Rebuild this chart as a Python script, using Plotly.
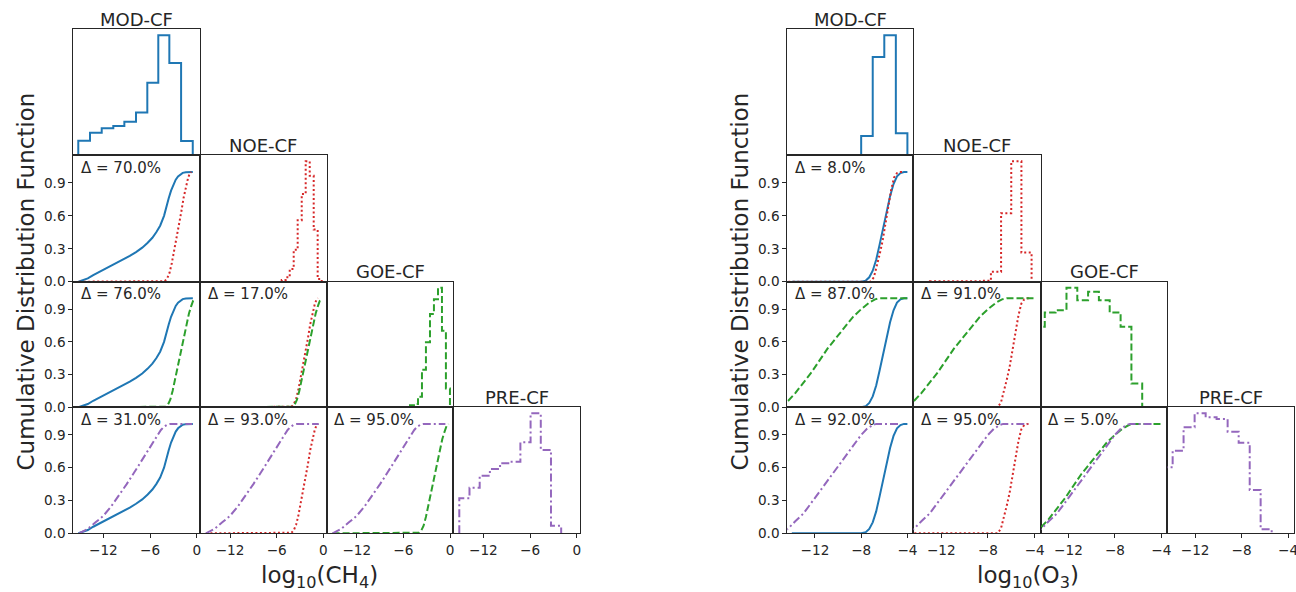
import plotly.graph_objects as go

W, H = 1296, 592

MODELS = ["MOD-CF", "NOE-CF", "GOE-CF", "PRE-CF"]
COLORS = ["#1f77b4", "#d62728", "#2ca02c", "#9467bd"]
DASHES = ["solid", "2px,2.5px", "7px,3px", "8px,3px,2px,3px"]
TXT = "#262626"
FONT = "DejaVu Sans"

# ---------------- CH4 data ----------------
ch4_mod_edges = [-15.22, -13.71, -12.21, -10.72, -9.30, -7.80, -6.35, -4.94, -3.52, -2.01, -0.51]
ch4_mod_counts = [44, 68, 81, 88, 101, 129, 218, 361, 278, 43]
ch4_noe_edges = [-5.36, -4.85, -4.33, -3.82, -3.31, -2.79, -2.28, -1.76, -1.25, -0.74, -0.22]
ch4_noe_counts = [5, 13, 38, 95, 183, 261, 358, 315, 155, 8]
ch4_goe_edges = [-5.15, -4.64, -4.12, -3.61, -3.10, -2.58, -2.07, -1.55, -1.04, -0.53, -0.01]
ch4_goe_counts = [6, 10, 32, 114, 197, 282, 327, 362, 232, 57]
ch4_pre_edges = [-15.09, -13.78, -12.47, -11.16, -9.85, -8.55, -7.24, -5.93, -4.62, -3.31, -2.00]
ch4_pre_counts = [105, 137, 173, 193, 210, 215, 273, 360, 250, 23]

ch4_mod_cdf_x = [-15.2, -14.5, -14.0, -13.3, -12.6, -12.0, -11.1, -10.3, -9.5, -8.6, -7.8, -7.0,
                 -6.3, -5.7, -5.2, -4.7, -4.2, -3.9, -3.6, -3.3, -3.0, -2.7, -2.4, -2.1, -1.8,
                 -1.4, -1.0, -0.5]
ch4_mod_cdf_y = [0.0, 0.015, 0.03, 0.06, 0.085, 0.11, 0.14, 0.17, 0.20, 0.235, 0.27, 0.31,
                 0.355, 0.40, 0.45, 0.51, 0.60, 0.69, 0.76, 0.83, 0.885, 0.93, 0.96, 0.98, 0.992,
                 0.998, 1.0, 1.0]
ch4_noe_cdf_x = [-15.1, -4.5, -4.1, -3.8, -3.5, -3.2, -2.9, -2.6, -2.3, -2.0, -1.7, -1.4, -1.1, -0.9, -0.7]
ch4_noe_cdf_y = [0.0, 0.0, 0.005, 0.03, 0.08, 0.17, 0.28, 0.40, 0.51, 0.63, 0.76, 0.87, 0.95, 0.985, 1.0]
ch4_goe_cdf_x = [-15.1, -4.3, -4.0, -3.7, -3.4, -3.1, -2.8, -2.5, -2.2, -1.9, -1.6, -1.3, -1.0, -0.7, -0.45, -0.2]
ch4_goe_cdf_y = [0.0, 0.0, 0.005, 0.025, 0.07, 0.15, 0.25, 0.36, 0.47, 0.58, 0.68, 0.78, 0.86, 0.93, 0.98, 1.0]
ch4_pre_cdf_x = [-15.1, -14.5, -14.0, -13.0, -12.0, -11.0, -10.0, -9.0, -8.0, -7.0, -6.0, -5.5, -5.0,
                 -4.6, -4.2, -3.8, -3.4, -0.6]
ch4_pre_cdf_y = [0.0, 0.02, 0.04, 0.10, 0.16, 0.245, 0.345, 0.45, 0.56, 0.67, 0.78, 0.84, 0.90,
                 0.945, 0.975, 0.993, 1.0, 1.0]
ch4_deltas = [[70.0], [76.0, 17.0], [31.0, 93.0, 95.0]]
ch4_ticks = [-12, -6, 0]
ch4_ticktext = ["\u221212", "\u22126", "0"]

# ---------------- O3 data ----------------
o3_mod_edges = [-14.0, -13.0, -12.0, -11.0, -10.0, -9.0, -8.0, -7.0, -6.0, -5.0, -4.0]
o3_mod_counts = [1, 1, 1, 1, 1, 1, 58, 296, 361, 66]
o3_noe_edges = [-12.97, -12.10, -11.23, -10.36, -9.49, -8.62, -7.75, -6.88, -6.01, -5.14, -4.27]
o3_noe_counts = [1, 1, 1, 1, 1, 3, 30, 205, 360, 87]
o3_goe_edges = [-14.97, -14.04, -13.11, -12.17, -11.24, -10.31, -9.38, -8.45, -7.51, -6.58, -5.65]
o3_goe_counts = [244, 287, 294, 362, 324, 350, 324, 287, 244, 72]
o3_pre_edges = [-14.88, -13.93, -12.99, -12.04, -11.09, -10.15, -9.20, -8.25, -7.30, -6.36, -5.41]
o3_pre_counts = [198, 248, 318, 360, 348, 343, 305, 272, 130, 12]

o3_mod_cdf_x = [-14.0, -8.0, -7.6, -7.3, -7.0, -6.7, -6.4, -6.1, -5.8, -5.5, -5.2, -4.9, -4.6, -4.3, -4.0]
o3_mod_cdf_y = [0.0, 0.0, 0.01, 0.04, 0.10, 0.20, 0.34, 0.49, 0.64, 0.78, 0.89, 0.96, 0.99, 1.0, 1.0]
o3_noe_cdf_x = [-14.3, -7.2, -6.9, -6.65, -6.4, -6.15, -5.9, -5.65, -5.4, -5.15, -4.9, -4.6, -4.35]
o3_noe_cdf_y = [0.0, 0.0, 0.04, 0.14, 0.25, 0.37, 0.52, 0.68, 0.84, 0.95, 0.99, 1.0, 1.0]
o3_goe_cdf_x = [-15.0, -14.4, -13.7, -13.0, -12.3, -11.6, -10.9, -10.1, -9.4, -8.7, -8.0, -7.3, -6.8, -6.4, -4.0]
o3_goe_cdf_y = [0.0, 0.05, 0.13, 0.22, 0.32, 0.43, 0.54, 0.645, 0.74, 0.83, 0.90, 0.96, 0.99, 1.0, 1.0]
o3_pre_cdf_x = [-14.9, -14.3, -13.7, -13.0, -12.3, -11.6, -10.9, -10.1, -9.4, -8.7, -8.0, -7.5, -7.0, -6.7, -4.6]
o3_pre_cdf_y = [0.0, 0.045, 0.11, 0.18, 0.28, 0.38, 0.48, 0.59, 0.70, 0.80, 0.90, 0.955, 0.99, 1.0, 1.0]
o3_deltas = [[8.0], [87.0, 91.0], [92.0, 95.0, 5.0]]
o3_ticks = [-12, -8, -4]
o3_ticktext = ["\u221212", "\u22128", "\u22124"]

cdf_ticks = [0.0, 0.3, 0.6, 0.9]
cdf_ticktext = ["0.0", "0.3", "0.6", "0.9"]

# ---------------- layout geometry (pixels) ----------------
ROWS = [29.3, 155.3, 281.7, 407.3, 533.3]
grids = [
    dict(cols=[73.3, 200.0, 326.7, 453.3, 580.0], xrange=[-15.86, 0.42],
         ticks=ch4_ticks, ticktext=ch4_ticktext,
         edges=[ch4_mod_edges, ch4_noe_edges, ch4_goe_edges, ch4_pre_edges],
         counts=[ch4_mod_counts, ch4_noe_counts, ch4_goe_counts, ch4_pre_counts],
         cdfx=[ch4_mod_cdf_x, ch4_noe_cdf_x, ch4_goe_cdf_x, ch4_pre_cdf_x],
         cdfy=[ch4_mod_cdf_y, ch4_noe_cdf_y, ch4_goe_cdf_y, ch4_pre_cdf_y],
         deltas=ch4_deltas, xlabel="log<sub>10</sub>(CH<sub>4</sub>)", xlabel_x=319, ylabel_x=25),
    dict(cols=[787.3, 913.3, 1040.7, 1167.3, 1294.0], xrange=[-14.39, -3.49],
         ticks=o3_ticks, ticktext=o3_ticktext,
         edges=[o3_mod_edges, o3_noe_edges, o3_goe_edges, o3_pre_edges],
         counts=[o3_mod_counts, o3_noe_counts, o3_goe_counts, o3_pre_counts],
         cdfx=[o3_mod_cdf_x, o3_noe_cdf_x, o3_goe_cdf_x, o3_pre_cdf_x],
         cdfy=[o3_mod_cdf_y, o3_noe_cdf_y, o3_goe_cdf_y, o3_pre_cdf_y],
         deltas=o3_deltas, xlabel="log<sub>10</sub>(O<sub>3</sub>)", xlabel_x=1028, ylabel_x=739),
]

fig = go.Figure()
annotations = []
layout_axes = {}
n = 0
for g in grids:
    for i in range(4):
        for j in range(i + 1):
            n += 1
            sfx = "" if n == 1 else str(n)
            L, R = g["cols"][j], g["cols"][j + 1]
            T, B = ROWS[i], ROWS[i + 1]
            bottom = (i == 3)
            leftcol = (j == 0) and (i != j)
            if i == j:
                yr = [0, max(g["counts"][i]) * 1.05]
            else:
                yr = [0, 1.152]
            layout_axes["xaxis" + sfx] = dict(
                domain=[L / W, R / W], range=g["xrange"], anchor="y" + sfx,
                showline=True, mirror=True, linecolor=TXT, linewidth=1,
                showgrid=False, zeroline=False, automargin=False,
                ticks="outside" if bottom else "", ticklen=4, tickcolor=TXT,
                tickvals=g["ticks"], ticktext=g["ticktext"], showticklabels=bottom,
                ticklabeloverflow="allow",
                tickfont=dict(family=FONT, size=13.6, color=TXT), fixedrange=True)
            ydict = dict(
                domain=[1 - B / H, 1 - T / H], range=yr, anchor="x" + sfx,
                showline=True, mirror=True, linecolor=TXT, linewidth=1,
                showgrid=False, zeroline=False, automargin=False, showticklabels=leftcol,
                ticks="outside" if leftcol else "", ticklen=4, tickcolor=TXT,
                tickfont=dict(family=FONT, size=13.6, color=TXT), fixedrange=True)
            if leftcol:
                ydict.update(tickvals=cdf_ticks, ticktext=cdf_ticktext)
            layout_axes["yaxis" + sfx] = ydict
            if i == j:
                e = g["edges"][i]
                c = g["counts"][i]
                xs = [e[0]] + e[:-1] + [e[-1]]
                ys = [0] + c + [0]
                fig.add_trace(go.Scatter(x=xs, y=ys, mode="lines", line_shape="hv",
                                         line=dict(color=COLORS[i], width=2, dash=DASHES[i]),
                                         xaxis="x" + sfx, yaxis="y" + sfx, showlegend=False,
                                         hoverinfo="skip"))
                annotations.append(dict(text=MODELS[i], x=(L + R) / 2 / W, y=1 - (T - 10) / H,
                                        xref="paper", yref="paper", showarrow=False,
                                        xanchor="center", yanchor="middle",
                                        font=dict(family=FONT, size=18, color=TXT)))
            else:
                for k in (j, i):
                    fig.add_trace(go.Scatter(x=g["cdfx"][k], y=g["cdfy"][k], mode="lines",
                                             line=dict(color=COLORS[k], width=2, dash=DASHES[k]),
                                             xaxis="x" + sfx, yaxis="y" + sfx, showlegend=False,
                                             hoverinfo="skip"))
                d = g["deltas"][i - 1][j]
                annotations.append(dict(text="\u0394 = %.1f%%" % d, x=(L + 5.5) / W,
                                        y=1 - (T + 12.7) / H, xref="paper", yref="paper",
                                        showarrow=False, xanchor="left", yanchor="middle",
                                        font=dict(family=FONT, size=15, color=TXT)))
    annotations.append(dict(text=g["xlabel"], x=g["xlabel_x"] / W, y=1 - 577.0 / H,
                            xref="paper", yref="paper", showarrow=False,
                            xanchor="center", yanchor="middle",
                            font=dict(family=FONT, size=23, color=TXT)))
    annotations.append(dict(text="Cumulative Distribution Function", x=g["ylabel_x"] / W,
                            y=1 - 281.5 / H, xref="paper", yref="paper", showarrow=False,
                            textangle=-90, xanchor="center", yanchor="middle",
                            font=dict(family=FONT, size=23, color=TXT)))

fig.update_layout(width=W, height=H, margin=dict(l=0, r=0, t=0, b=0, autoexpand=False),
                  paper_bgcolor="white", plot_bgcolor="white",
                  annotations=annotations, **layout_axes)
fig.write_html("out.html")
